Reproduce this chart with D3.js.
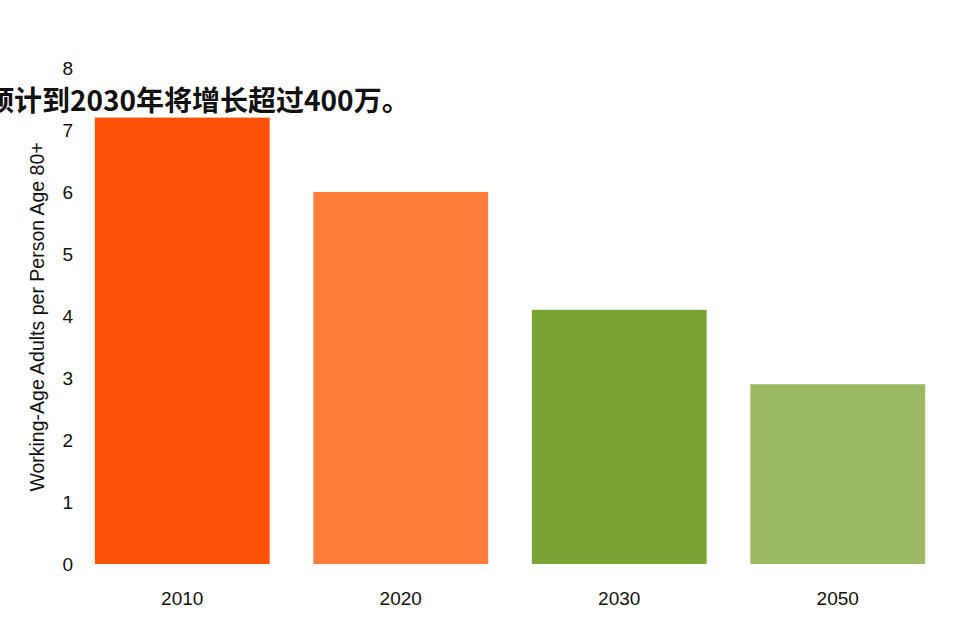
<!DOCTYPE html>
<html>
<head>
<meta charset="utf-8">
<script src="https://cdn.jsdelivr.net/npm/d3@7"></script>
<style>
  body { margin: 0; background: #fff; }
  svg text { font-family: "Liberation Sans", Arial, sans-serif; }
</style>
</head>
<body>
<svg id="chart" width="959" height="632"></svg>
<script>
// data
const years = ["2010", "2020", "2030", "2050"];
const ratios = [7.2, 6.0, 4.1, 2.9];
const barColors = ["#FF5208", "#FF7D3B", "#79A332", "#9DB964"];
const yTicks = [0, 1, 2, 3, 4, 5, 6, 7, 8];
const titleText = "预计到2030年将增长超过400万。";
const yLabel = "Working-Age Adults per Person Age 80+";

const svg = d3.select("#chart");

const x = d3.scaleBand()
  .domain(years)
  .range([73, 947])
  .paddingInner(0.2)
  .paddingOuter(0.1);

const y = d3.scaleLinear()
  .domain([0, 8])
  .range([564, 68]);

// bars
svg.append("g")
  .selectAll("rect")
  .data(years)
  .join("rect")
  .attr("x", d => x(d))
  .attr("y", (d, i) => y(ratios[i]))
  .attr("width", x.bandwidth())
  .attr("height", (d, i) => y(0) - y(ratios[i]))
  .attr("fill", (d, i) => barColors[i]);

// y axis (labels only)
const yAxis = svg.append("g")
  .attr("transform", "translate(73,0)")
  .call(d3.axisLeft(y).tickValues(yTicks).tickSize(0).tickPadding(0));
yAxis.select(".domain").remove();
yAxis.selectAll("text")
  .style("font-family", "Liberation Sans, Arial, sans-serif")
  .style("font-size", "19px")
  .attr("fill", "#111");

// x axis (labels only)
const xAxis = svg.append("g")
  .attr("transform", "translate(0,564)")
  .call(d3.axisBottom(x).tickSize(0).tickPadding(28));
xAxis.select(".domain").remove();
xAxis.selectAll("text")
  .style("font-family", "Liberation Sans, Arial, sans-serif")
  .style("font-size", "19px")
  .attr("fill", "#111");

// y axis title
svg.append("text")
  .attr("transform", "translate(44,317) rotate(-90)")
  .attr("text-anchor", "middle")
  .style("font-size", "19.5px")
  .attr("fill", "#111")
  .text(yLabel);

// title (clipped on the left, as in the source)
svg.append("text")
  .attr("x", -14)
  .attr("y", 111)
  .style("font-family", "'Noto Sans CJK SC', sans-serif")
  .style("font-size", "28px")
  .style("font-weight", "bold")
  .attr("fill", "#111")
  .text(titleText);
</script>
</body>
</html>
